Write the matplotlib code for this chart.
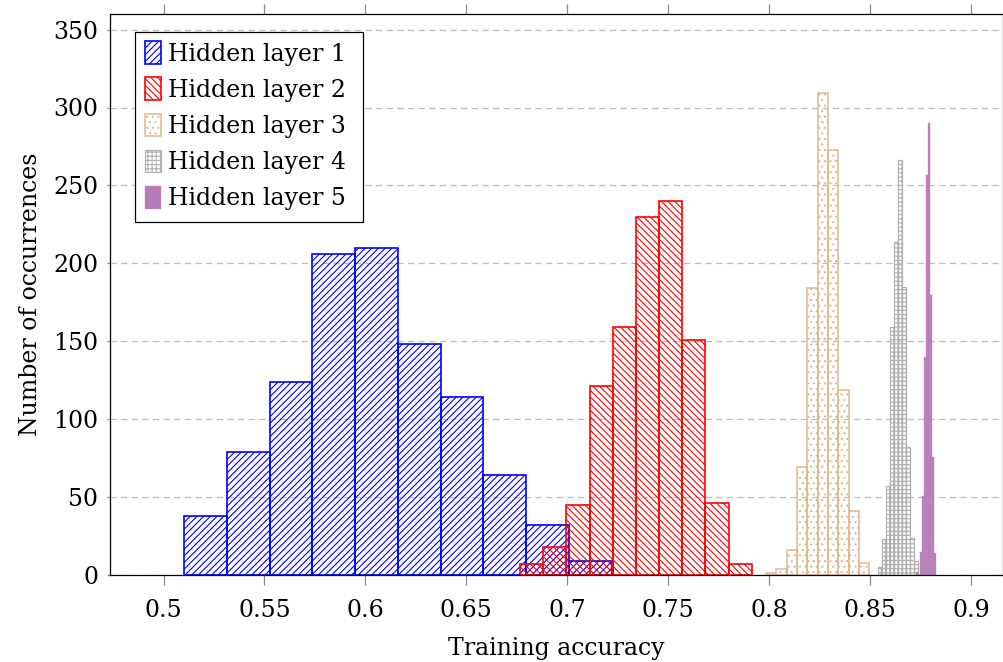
import numpy as np
import matplotlib
matplotlib.use("Agg")
import matplotlib.pyplot as plt
from matplotlib.patches import Rectangle

# ---------------- data ----------------
layer_names = ["Hidden layer 1", "Hidden layer 2", "Hidden layer 3",
               "Hidden layer 4", "Hidden layer 5"]

# bin start / bin width for each layer (training accuracy)
l1_start, l1_width = 0.5102, 0.02118
l2_start, l2_width = 0.6766, 0.011476
l3_start, l3_width = 0.7984, 0.005117
l4_start, l4_width = 0.8537, 0.00198
l5_start, l5_width = 0.8728, 0.00099

l1_counts = [38, 79, 124, 206, 210, 148, 114, 64, 32, 9]
l2_counts = [7, 18, 45, 121, 159, 230, 240, 151, 46, 7]
l3_counts = [1, 4, 16, 69, 184, 309, 273, 119, 41, 8]
l4_counts = [5, 23, 57, 159, 214, 266, 185, 82, 24, 9]
l5_counts = [2, 0, 15, 51, 140, 257, 290, 180, 76, 14]

x_ticks = [0.5, 0.55, 0.6, 0.65, 0.7, 0.75, 0.8, 0.85, 0.9]
x_tick_labels = ["0.5", "0.55", "0.6", "0.65", "0.7", "0.75", "0.8", "0.85", "0.9"]
y_ticks = [0, 50, 100, 150, 200, 250, 300, 350]

# ---------------- style ----------------
plt.rcParams['font.family'] = ['DejaVu Serif']
plt.rcParams['hatch.linewidth'] = 0.8
FS = 17

fig = plt.figure(figsize=(10.04, 6.62), dpi=100)
ax = fig.add_axes([110/1004, 87/662, 893/1004, 561/662])

layers = [
    (l1_start, l1_width, l1_counts, dict(facecolor='none', edgecolor='#0000ff', hatch='/////', linewidth=1.2)),
    (l2_start, l2_width, l2_counts, dict(facecolor='none', edgecolor='#ff0000', hatch='\\\\\\\\\\', linewidth=1.2)),
    (l3_start, l3_width, l3_counts, dict(facecolor='none', edgecolor='#deb890', hatch='...', linewidth=1.1)),
    (l4_start, l4_width, l4_counts, dict(facecolor='none', edgecolor='#b0b0b0', hatch='++++', linewidth=0.9)),
    (l5_start, l5_width, l5_counts, dict(facecolor='#b77cb7', edgecolor='#c48fc4', linewidth=0.3)),
]

for name, (start, width, counts, style) in zip(layer_names, layers):
    n = len(counts)
    lefts = start + width * np.arange(n)
    ax.bar(lefts, counts, width=width, align='edge', label=name, zorder=2, **style)

ax.set_xlim(0.4735, 0.9158)
ax.set_ylim(0, 360)
ax.set_xticks(x_ticks)
ax.set_xticklabels(x_tick_labels)
ax.set_yticks(y_ticks)

ax.yaxis.grid(True, linestyle=(0, (5, 3.5)), color='#bdbdbd', linewidth=0.9, zorder=0)
ax.set_axisbelow(True)

ax.tick_params(labelsize=FS, color='#888888', width=0.9)
ax.tick_params(axis='x', direction='out', top=True, length=7.5, pad=9.5)
ax.tick_params(axis='y', direction='out', right=True, length=2.5, pad=6)
for s in ax.spines.values():
    s.set_linewidth(0.9)

ax.set_xlabel("Training accuracy", fontsize=FS, labelpad=11)
ax.set_ylabel("Number of occurrences", fontsize=FS, labelpad=8)

leg = ax.legend(loc='upper left', bbox_to_anchor=(0.031, 0.964), fontsize=FS,
                frameon=False,
                handlelength=0.7, handleheight=1.1, handletextpad=0.3,
                labelspacing=0.5, borderpad=0.3, borderaxespad=0.0)

# legend frame with pgfplots-like padding
fig.canvas.draw()
bb = leg.get_window_extent().transformed(fig.transFigure.inverted())
pad_l, pad_r = 3/1004, 10/1004
pad_t, pad_b = 2/662, 5/662
frame = Rectangle((bb.x0 - pad_l, bb.y0 - pad_b), bb.width + pad_l + pad_r,
                  bb.height + pad_t + pad_b, transform=fig.transFigure,
                  facecolor='white', edgecolor='black', linewidth=0.9, zorder=10)
fig.add_artist(frame)
ax.set_zorder(1)
leg.remove()
fig.legends.append(leg)
leg.set_figure(fig)
leg.set_zorder(11)

fig.savefig("out.png", dpi=100)
